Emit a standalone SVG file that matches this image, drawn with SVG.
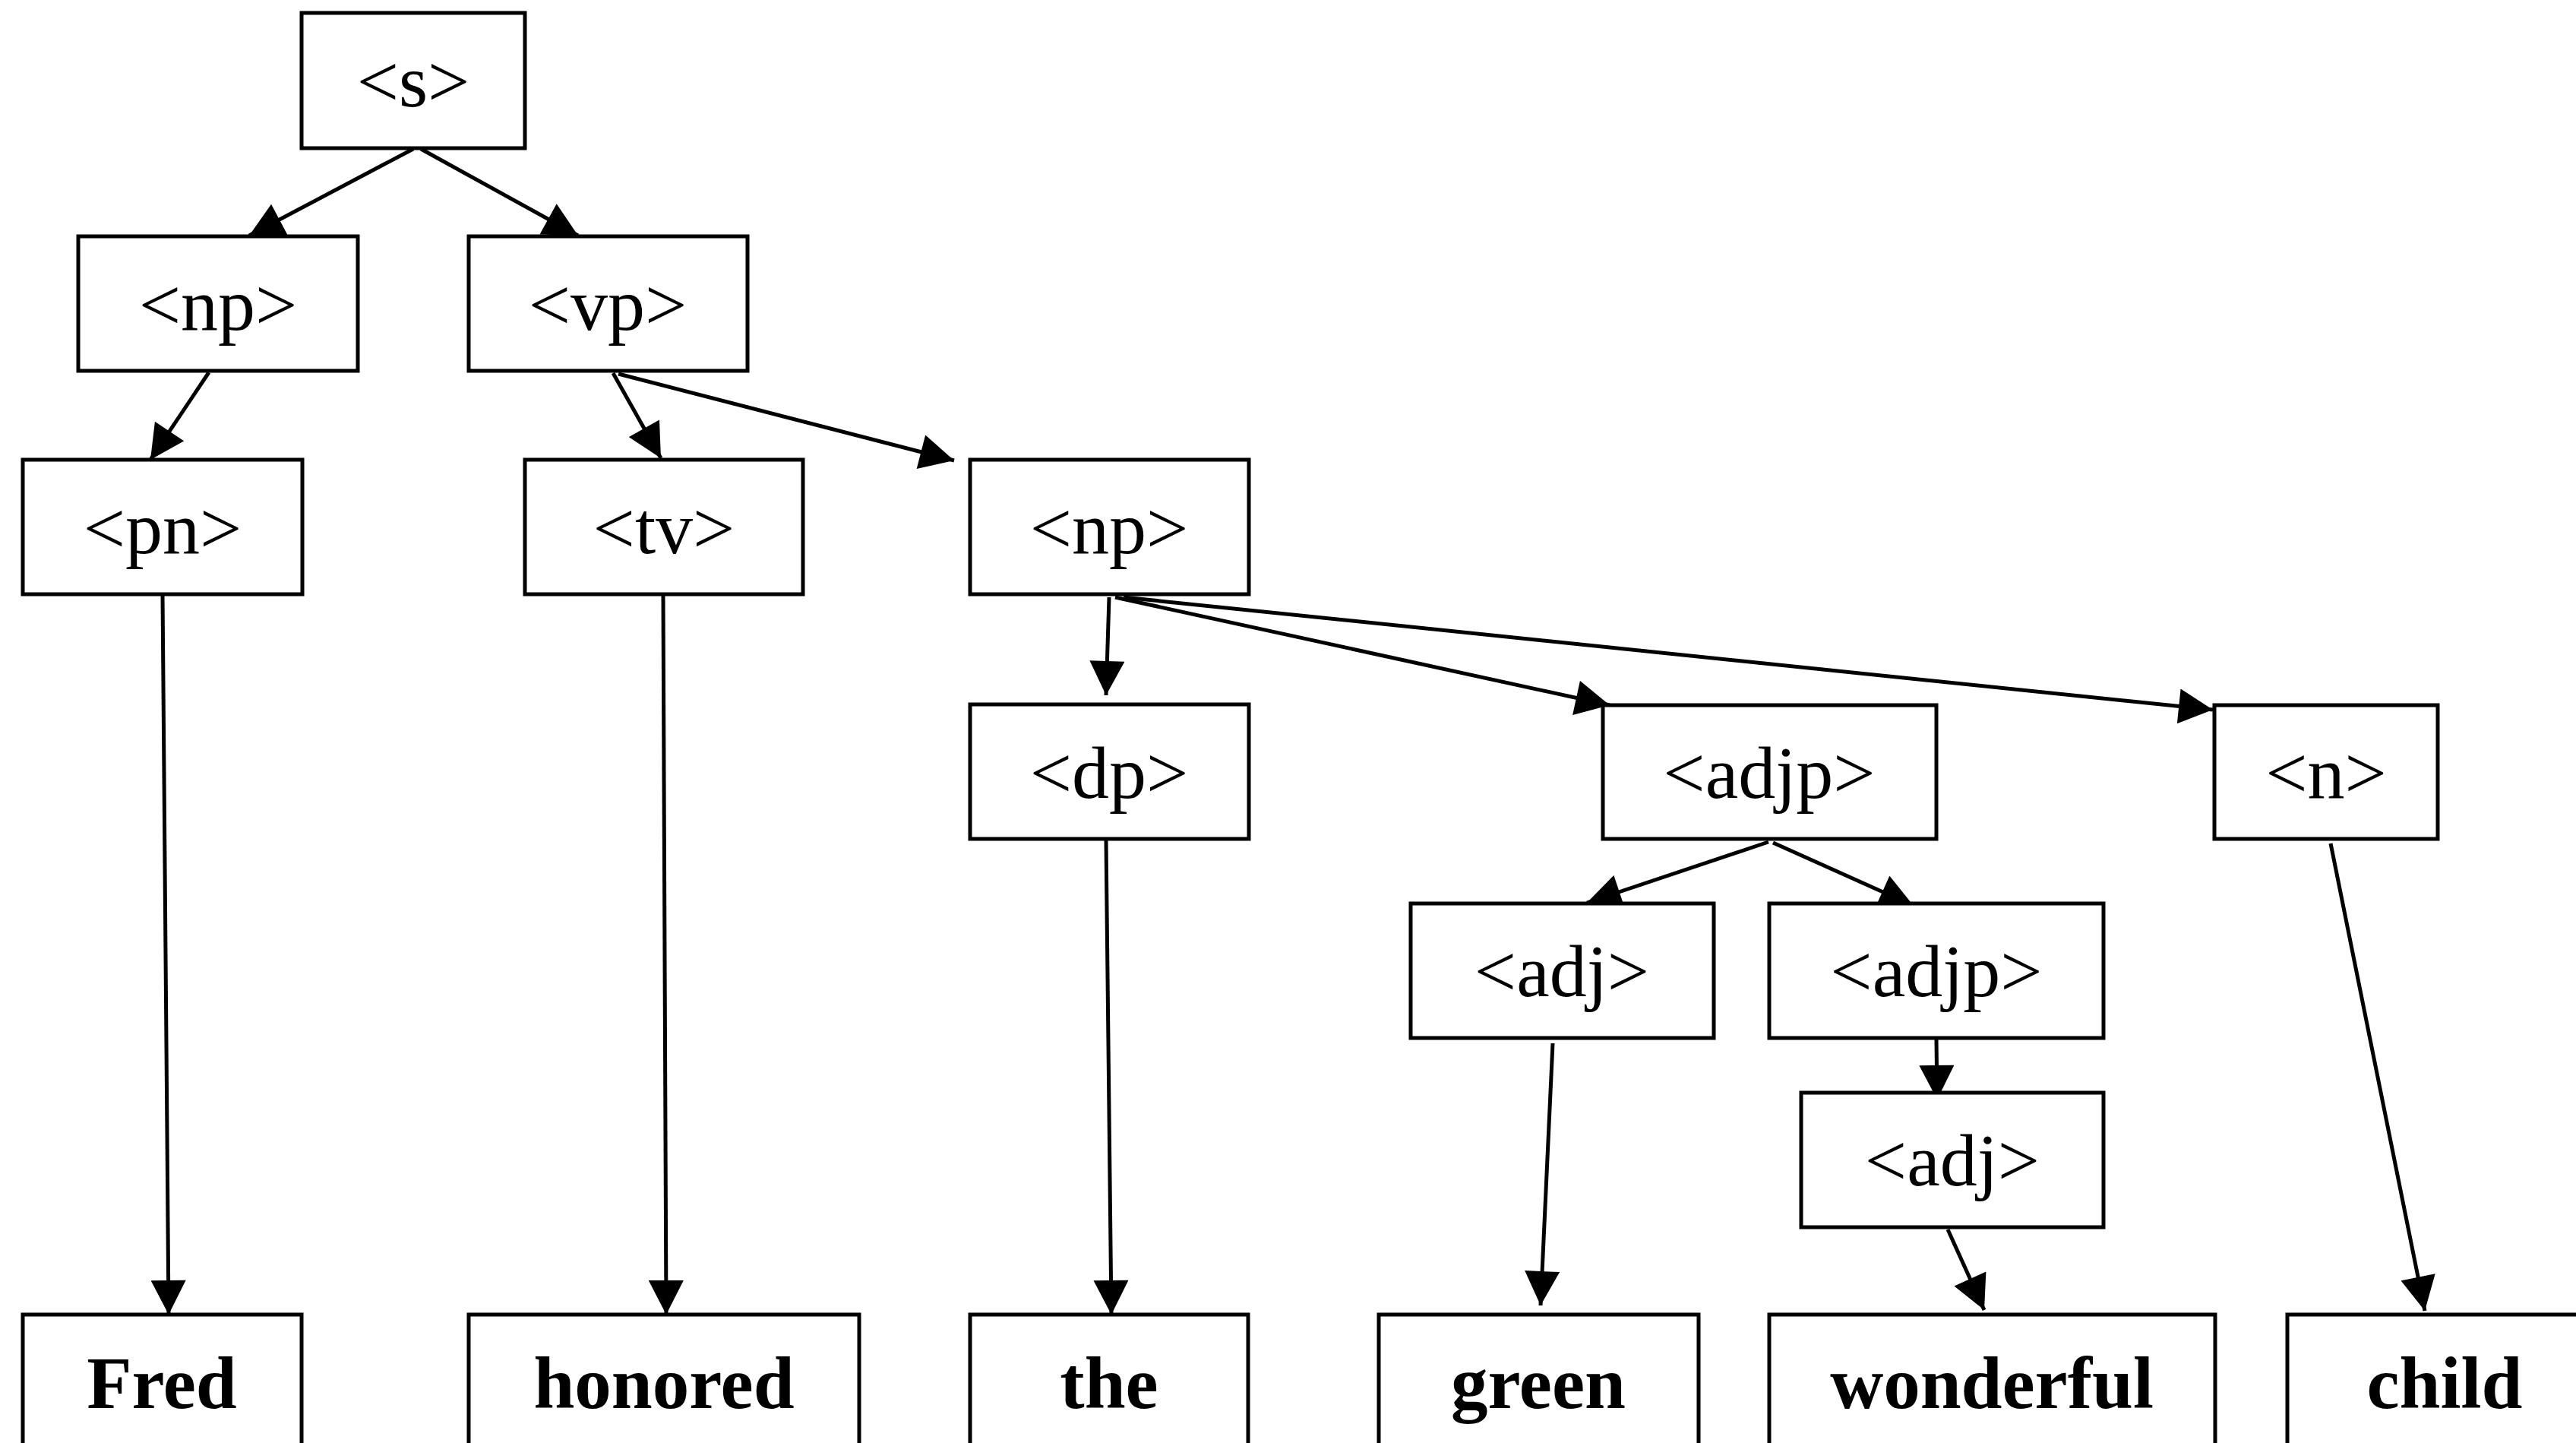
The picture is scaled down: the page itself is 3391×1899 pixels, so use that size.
<svg xmlns="http://www.w3.org/2000/svg" width="3391" height="1899" viewBox="0 0 3391 1899">
<style>
.box{fill:#fff;stroke:#000;stroke-width:5}
.lbl{font-family:"Liberation Serif","Times New Roman",serif;font-size:98px;text-anchor:middle;fill:#000}
.word{font-family:"Liberation Serif","Times New Roman",serif;font-size:97px;font-weight:bold;text-anchor:middle;fill:#000}
.edge{stroke:#000;stroke-width:5;fill:none;marker-end:url(#ah)}
</style>
<defs>
<marker id="ah" markerUnits="userSpaceOnUse" markerWidth="46" markerHeight="46" viewBox="0 0 45 46" refX="45" refY="23" orient="auto">
<path d="M0,0 L45,23 L0,46 Z" fill="#000"/>
</marker>
</defs>
<rect width="3391" height="1899" fill="#fff"/>
<g id="edges">
<line class="edge" x1="544" y1="196" x2="328" y2="310"/>
<line class="edge" x1="554" y1="196" x2="761" y2="310"/>
<line class="edge" x1="275" y1="490" x2="198" y2="605"/>
<line class="edge" x1="807" y1="491" x2="870" y2="603"/>
<line class="edge" x1="814" y1="492" x2="1256" y2="606"/>
<line class="edge" x1="214" y1="783" x2="222" y2="1730"/>
<line class="edge" x1="873" y1="783" x2="877" y2="1730"/>
<line class="edge" x1="1460" y1="786" x2="1456" y2="915"/>
<line class="edge" x1="1468" y1="786" x2="2119" y2="928"/>
<line class="edge" x1="1479" y1="786" x2="2913" y2="934"/>
<line class="edge" x1="1456" y1="1106" x2="1463" y2="1730"/>
<line class="edge" x1="2328" y1="1108" x2="2089" y2="1188"/>
<line class="edge" x1="2334" y1="1109" x2="2519" y2="1192"/>
<line class="edge" x1="2549" y1="1368" x2="2550" y2="1447"/>
<line class="edge" x1="2044" y1="1373" x2="2028" y2="1718"/>
<line class="edge" x1="2564" y1="1618" x2="2612" y2="1724"/>
<line class="edge" x1="3068" y1="1110" x2="3192" y2="1725"/>
</g>
<g id="n_s"><rect class="box" x="397" y="17" width="294" height="178"/><text class="lbl" x="544" y="140">&lt;s&gt;</text></g>
<g id="n_np1"><rect class="box" x="103" y="311" width="368" height="177"/><text class="lbl" x="287" y="434">&lt;np&gt;</text></g>
<g id="n_vp"><rect class="box" x="617" y="311" width="367" height="177"/><text class="lbl" x="800" y="434">&lt;vp&gt;</text></g>
<g id="n_pn"><rect class="box" x="30" y="605" width="368" height="177"/><text class="lbl" x="214" y="728">&lt;pn&gt;</text></g>
<g id="n_tv"><rect class="box" x="691" y="605" width="366" height="177"/><text class="lbl" x="874" y="728">&lt;tv&gt;</text></g>
<g id="n_np2"><rect class="box" x="1277" y="605" width="367" height="177"/><text class="lbl" x="1460" y="728">&lt;np&gt;</text></g>
<g id="n_dp"><rect class="box" x="1277" y="927" width="367" height="177"/><text class="lbl" x="1460" y="1050">&lt;dp&gt;</text></g>
<g id="n_adjp1"><rect class="box" x="2110" y="928" width="439" height="176"/><text class="lbl" x="2329" y="1050">&lt;adjp&gt;</text></g>
<g id="n_n"><rect class="box" x="2915" y="928" width="294" height="176"/><text class="lbl" x="3062" y="1050">&lt;n&gt;</text></g>
<g id="n_adj1"><rect class="box" x="1857" y="1189" width="399" height="177"/><text class="lbl" x="2056" y="1311">&lt;adj&gt;</text></g>
<g id="n_adjp2"><rect class="box" x="2329" y="1189" width="440" height="177"/><text class="lbl" x="2549" y="1311">&lt;adjp&gt;</text></g>
<g id="n_adj2"><rect class="box" x="2371" y="1438" width="398" height="177"/><text class="lbl" x="2570" y="1560">&lt;adj&gt;</text></g>
<g id="w_fred"><rect class="box" x="30" y="1730" width="367" height="200"/><text class="word" x="213" y="1853">Fred</text></g>
<g id="w_honored"><rect class="box" x="617" y="1730" width="514" height="200"/><text class="word" x="874" y="1853">honored</text></g>
<g id="w_the"><rect class="box" x="1277" y="1730" width="366" height="200"/><text class="word" x="1460" y="1853">the</text></g>
<g id="w_green"><rect class="box" x="1815" y="1730" width="421" height="200"/><text class="word" x="2025" y="1853">green</text></g>
<g id="w_wonderful"><rect class="box" x="2329" y="1730" width="587" height="200"/><text class="word" x="2622" y="1853">wonderful</text></g>
<g id="w_child"><rect class="box" x="3011" y="1730" width="420" height="200"/><text class="word" x="3218" y="1853">child</text></g>
</svg>
